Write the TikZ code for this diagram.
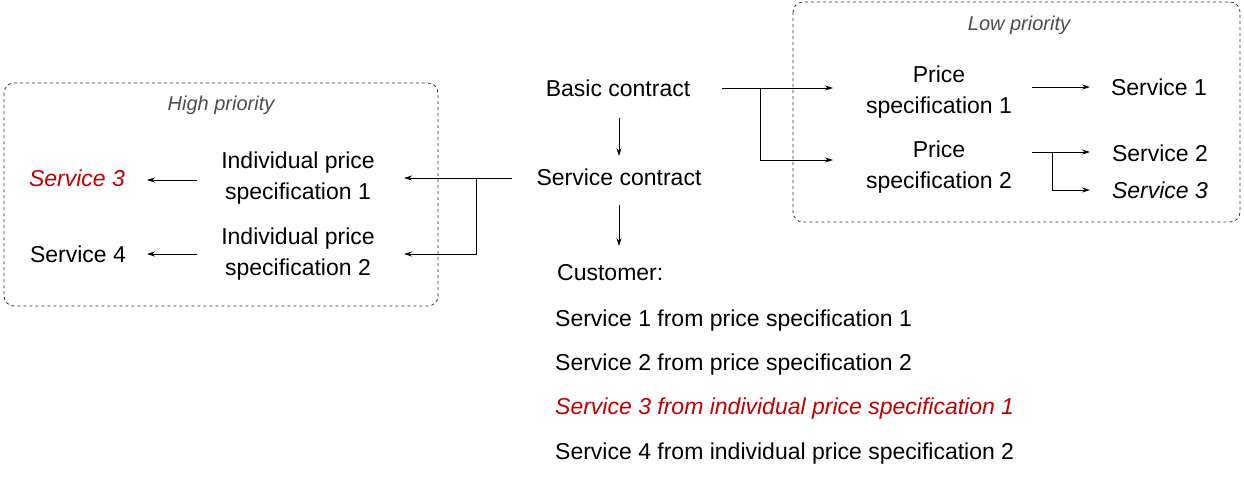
\documentclass[tikz,border=0pt]{standalone}
\usepackage{fontspec}
\setmainfont{Liberation Sans}
\usetikzlibrary{arrows.meta}
\definecolor{myred}{RGB}{192,0,0}
\begin{document}
\begin{tikzpicture}[x=1pt,y=-1pt,
  every node/.style={inner sep=0pt,font=\fontsize{23}{31}\selectfont},
  two/.style={align=center},
  grp/.style={draw=black!80,dashed,rounded corners=10pt,line width=0.8pt},
  lbl/.style={font=\fontsize{20}{24}\selectfont\itshape,text=black!70},
  arr/.style={-{Stealth[length=8pt,width=5pt]},line width=0.8pt},
  cl/.style={anchor=west}]
\useasboundingbox (0,0) rectangle (1244,483);
\draw[grp] (4,83) rectangle (438,306);
\draw[grp] (793,2) rectangle (1240,222);
\node[lbl] (hp) at (221,105) {High priority};
\node[lbl] (lp) at (1019,25) {Low priority};
\node (bc) at (618,88) {Basic contract};
\node (sc) at (619,177) {Service contract};
\node (ps1) at (939,92) [two] {Price\\specification 1};
\node (ps2) at (939,167) [two] {Price\\specification 2};
\node (s1) at (1159,87) {Service 1};
\node (s2) at (1160,153) {Service 2};
\node (s3) at (1160,190) {\itshape Service 3};
\node (ip1) at (298,178) [two] {Individual price\\specification 1};
\node (ip2) at (298,254) [two] {Individual price\\specification 2};
\node (ls3) at (77,178) [text=myred] {\itshape Service 3};
\node (ls4) at (78,254) {Service 4};
\node[cl] (cu) at (557,273) {Customer:};
\node[cl] (c1) at (555,321) {Service 1 from price specification 1};
\node[cl] (c2) at (555,365) {Service 2 from price specification 2};
\node[cl,text=myred] (c3) at (555,409) {\itshape Service 3 from individual price specification 1};
\node[cl] (c4) at (555,454) {Service 4 from individual price specification 2};
\coordinate (b1) at (619,118); \coordinate (b2) at (619,156);
\coordinate (b3) at (619,205); \coordinate (b4) at (619,246);
\draw[arr] (b1) -- (b2);
\draw[arr] (b3) -- (b4);
\coordinate (r0) at (722,88); \coordinate (r1) at (833,88);
\coordinate (r2) at (760,88); \coordinate (r3) at (833,160);
\draw[arr] (r0) -- (r1);
\draw[arr] (r2) |- (r3);
\coordinate (p0) at (1032,87); \coordinate (p1) at (1090,87);
\draw[arr] (p0) -- (p1);
\coordinate (q0) at (1032,152); \coordinate (q1) at (1090,152);
\coordinate (q2) at (1052,152); \coordinate (q3) at (1090,190);
\draw[arr] (q0) -- (q1);
\draw[arr] (q2) |- (q3);
\coordinate (l0) at (512,178); \coordinate (l1) at (404,178);
\coordinate (l2) at (476,178); \coordinate (l3) at (404,254);
\draw[arr] (l0) -- (l1);
\draw[arr] (l2) |- (l3);
\coordinate (m0) at (197,180); \coordinate (m1) at (147,180);
\coordinate (n0) at (197,254); \coordinate (n1) at (147,254);
\draw[arr] (m0) -- (m1);
\draw[arr] (n0) -- (n1);
\end{tikzpicture}
\end{document}
